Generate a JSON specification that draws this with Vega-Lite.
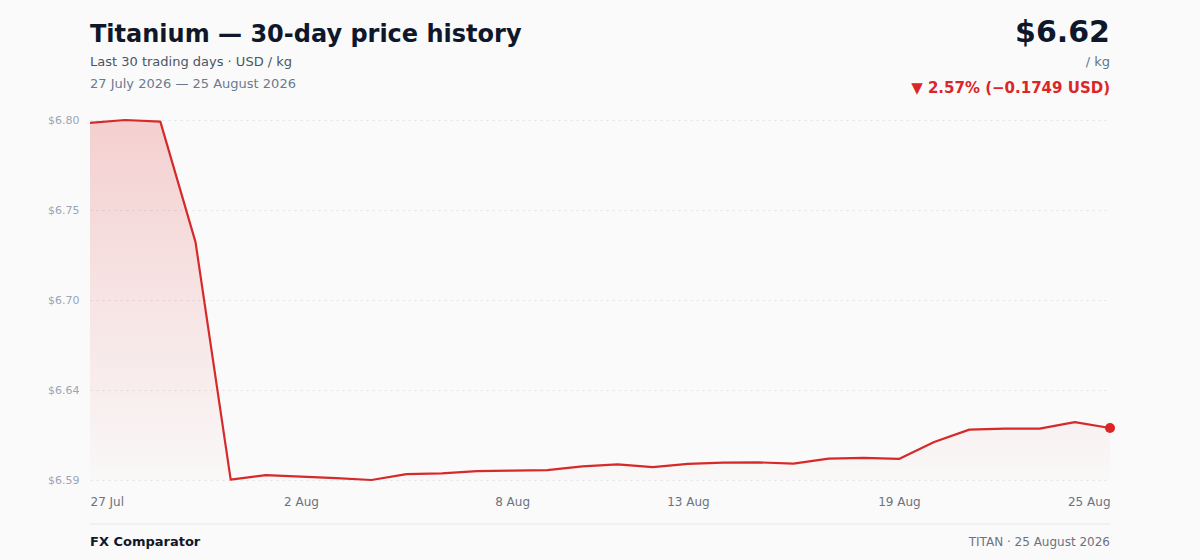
{
  "$schema": "https://vega.github.io/schema/vega-lite/v6.json",
  "width": 1020,
  "height": 360,
  "autosize": {"type": "none"},
  "padding": {"left": 90, "top": 120, "right": 90, "bottom": 80},
  "background": "#fafafa",
  "config": {
    "font": "DejaVu Sans",
    "view": {"stroke": null}
  },
  "layer": [
    {
      "data": {
        "values": [
          {"date": "2026-07-27", "price": 6.7973},
          {"date": "2026-07-28", "price": 6.7990},
          {"date": "2026-07-29", "price": 6.7981},
          {"date": "2026-07-30", "price": 6.7290},
          {"date": "2026-07-31", "price": 6.5928},
          {"date": "2026-08-01", "price": 6.5954},
          {"date": "2026-08-02", "price": 6.5945},
          {"date": "2026-08-03", "price": 6.5937},
          {"date": "2026-08-04", "price": 6.5926},
          {"date": "2026-08-05", "price": 6.5960},
          {"date": "2026-08-06", "price": 6.5964},
          {"date": "2026-08-07", "price": 6.5977},
          {"date": "2026-08-08", "price": 6.5980},
          {"date": "2026-08-09", "price": 6.5983},
          {"date": "2026-08-10", "price": 6.6004},
          {"date": "2026-08-11", "price": 6.6016},
          {"date": "2026-08-12", "price": 6.6000},
          {"date": "2026-08-13", "price": 6.6018},
          {"date": "2026-08-14", "price": 6.6026},
          {"date": "2026-08-15", "price": 6.6027},
          {"date": "2026-08-16", "price": 6.6020},
          {"date": "2026-08-17", "price": 6.6049},
          {"date": "2026-08-18", "price": 6.6053},
          {"date": "2026-08-19", "price": 6.6047},
          {"date": "2026-08-20", "price": 6.6144},
          {"date": "2026-08-21", "price": 6.6215},
          {"date": "2026-08-22", "price": 6.6221},
          {"date": "2026-08-23", "price": 6.6221},
          {"date": "2026-08-24", "price": 6.6258},
          {"date": "2026-08-25", "price": 6.6224}
        ],
        "format": {"parse": {"date": "date"}}
      },
      "encoding": {
        "x": {
          "field": "date",
          "type": "temporal",
          "scale": {"type": "utc", "nice": false},
          "axis": {
            "title": null,
            "values": [
              {"year": 2026, "month": 7, "date": 27, "utc": true},
              {"year": 2026, "month": 8, "date": 2, "utc": true},
              {"year": 2026, "month": 8, "date": 8, "utc": true},
              {"year": 2026, "month": 8, "date": 13, "utc": true},
              {"year": 2026, "month": 8, "date": 19, "utc": true},
              {"year": 2026, "month": 8, "date": 25, "utc": true}
            ],
            "labelExpr": "utcFormat(datum.value, '%-d %b')",
            "labelFlush": true,
            "labelColor": "#6b7280",
            "labelFontSize": 12,
            "labelPadding": 16,
            "ticks": false,
            "domain": false,
            "grid": false
          }
        },
        "y": {
          "field": "price",
          "type": "quantitative",
          "scale": {"zero": false, "nice": false, "domain": [6.5926, 6.799]},
          "axis": {
            "title": null,
            "values": [6.5926, 6.6442, 6.6958, 6.7474, 6.799],
            "format": "$.2f",
            "labelFlush": false,
            "labelColor": "#9aa5b8",
            "labelFontSize": 11,
            "labelPadding": 11,
            "ticks": false,
            "domain": false,
            "grid": true,
            "gridColor": "#dfe2e7",
            "gridDash": [2, 4],
            "gridWidth": 1
          }
        }
      },
      "layer": [
        {
          "mark": {
            "type": "area",
            "fill": {
              "x1": 0, "y1": 0, "x2": 0, "y2": 1,
              "gradient": "linear",
              "stops": [
                {"offset": 0, "color": "rgba(220,38,38,0.20)"},
                {"offset": 1, "color": "rgba(220,38,38,0.01)"}
              ]
            }
          },
          "encoding": {"y2": {"datum": 6.5926}}
        },
        {
          "mark": {"type": "line", "color": "#d62a2a", "strokeWidth": 2.2, "strokeJoin": "round"}
        },
        {
          "transform": [{"filter": "utcmonth(datum.date) == 7 && utcdate(datum.date) == 25"}],
          "mark": {"type": "point", "filled": true, "color": "#dc2626", "size": 100, "opacity": 1}
        }
      ]
    },
    {
      "data": {"values": [{}]},
      "layer": [
        {"mark": {"type": "text", "text": "Titanium — 30-day price history", "x": 0, "y": -85, "align": "left", "baseline": "middle", "fontSize": 24, "fontWeight": "bold", "color": "#0f172a"}, "encoding": {}},
        {"mark": {"type": "text", "text": "Last 30 trading days · USD / kg", "x": 0, "y": -58, "align": "left", "baseline": "middle", "fontSize": 13, "color": "#4b5563"}, "encoding": {}},
        {"mark": {"type": "text", "text": "27 July 2026 — 25 August 2026", "x": 0, "y": -36, "align": "left", "baseline": "middle", "fontSize": 13, "color": "#6b7a90"}, "encoding": {}},
        {"mark": {"type": "text", "text": "$6.62", "x": {"expr": "width"}, "y": -87, "align": "right", "baseline": "middle", "fontSize": 30, "fontWeight": "bold", "color": "#0f172a"}, "encoding": {}},
        {"mark": {"type": "text", "text": "/ kg", "x": {"expr": "width"}, "y": -58, "align": "right", "baseline": "middle", "fontSize": 13, "color": "#64748b"}, "encoding": {}},
        {"mark": {"type": "text", "text": "▼ 2.57% (−0.1749 USD)", "x": {"expr": "width"}, "y": -32, "align": "right", "baseline": "middle", "fontSize": 15, "fontWeight": "bold", "color": "#dc2626"}, "encoding": {}},
        {"mark": {"type": "rule", "color": "#e5e7eb", "strokeWidth": 1}, "encoding": {"x": {"value": 0}, "x2": {"value": {"expr": "width"}}, "y": {"value": 404}, "y2": {"value": 404}}},
        {"mark": {"type": "text", "text": "FX Comparator", "x": 0, "y": 422, "align": "left", "baseline": "middle", "fontSize": 13, "fontWeight": "bold", "color": "#111827"}, "encoding": {}},
        {"mark": {"type": "text", "text": "TITAN · 25 August 2026", "x": {"expr": "width"}, "y": 422, "align": "right", "baseline": "middle", "fontSize": 12, "color": "#6b7280"}, "encoding": {}}
      ]
    }
  ]
}
